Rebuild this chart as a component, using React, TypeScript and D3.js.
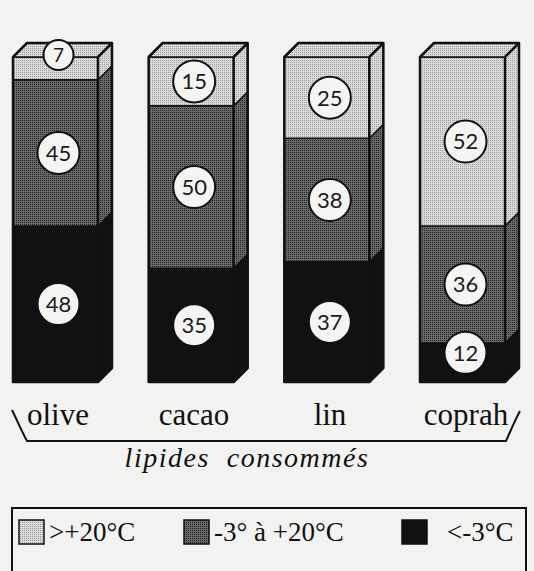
import * as d3 from "d3";

const categories = ["olive", "cacao", "lin", "coprah"];
// part des lipides (%) selon la température
const froid = [48, 35, 37, 12]; // <-3°C
const moyen = [45, 50, 38, 36]; // -3° à +20°C
const chaud = [7, 15, 25, 52]; // >+20°C

const seriesKeys = ["froid", "moyen", "chaud"];
const legendLabels = [">+20°C", "-3° à +20°C", "<-3°C"];
const legendKeys = ["chaud", "moyen", "froid"];

const W = 534;
const H = 571;
const DEPTH = 14;

const fills: Record<string, string> = {
  chaud: "url(#pat-light)",
  moyen: "url(#pat-dark)",
  froid: "#111",
};

export default function App() {
  const rows = categories.map((c, i) => ({
    name: c,
    froid: froid[i],
    moyen: moyen[i],
    chaud: chaud[i],
  }));

  const x = d3.scaleBand<string>().domain(categories).range([13, 505]).paddingInner(0.3735);
  // les noms sous les barres ne sont pas tout à fait alignés sur les barres
  const xLabel = d3.scalePoint<string>().domain(categories).range([58, 466]);
  const y = d3.scaleLinear().domain([0, 100]).range([382, 57]);
  const stacked = d3.stack<(typeof rows)[number]>().keys(seriesKeys)(rows);
  const bw = x.bandwidth();

  return (
    <svg
      width={W}
      height={H}
      style={{ position: "fixed", left: 0, top: 0, background: "#f2f2f0" }}
    >
      <defs>
        <pattern id="pat-light" width={2} height={2} patternUnits="userSpaceOnUse">
          <rect width={2} height={2} fill="#dadada" />
          <rect width={1} height={1} fill="#9e9e9e" />
        </pattern>
        <pattern id="pat-dark" width={2} height={2} patternUnits="userSpaceOnUse">
          <rect width={2} height={2} fill="#6a6a6a" />
          <rect width={1} height={1} fill="#222" />
        </pattern>
      </defs>

      {rows.map((r, i) => {
        const x0 = x(r.name)!;
        const x1 = x0 + bw;
        const yTop = y(100);
        const yBot = y(0);
        const topKey = seriesKeys[seriesKeys.length - 1];
        return (
          <g key={r.name}>
            {stacked.map((s) => {
              const d = s[i];
              const ya = y(d[1]);
              const yb = y(d[0]);
              return (
                <g key={s.key}>
                  <rect
                    x={x0}
                    y={ya}
                    width={bw}
                    height={yb - ya}
                    fill={fills[s.key]}
                    stroke="#111"
                    strokeWidth={1.5}
                  />
                  <polygon
                    points={`${x1},${ya} ${x1 + DEPTH},${ya - DEPTH} ${x1 + DEPTH},${yb - DEPTH} ${x1},${yb}`}
                    fill={fills[s.key]}
                    stroke="#111"
                    strokeWidth={1.5}
                    strokeLinejoin="round"
                  />
                </g>
              );
            })}
            <polygon
              points={`${x0},${yTop} ${x0 + DEPTH},${yTop - DEPTH} ${x1 + DEPTH},${yTop - DEPTH} ${x1},${yTop}`}
              fill={fills[topKey]}
              stroke="#111"
              strokeWidth={1.5}
              strokeLinejoin="round"
            />
            <path
              d={`M${x0},${yBot} L${x0},${yTop} L${x0 + DEPTH},${yTop - DEPTH} L${x1 + DEPTH},${yTop - DEPTH} L${x1 + DEPTH},${yBot - DEPTH} L${x1},${yBot} Z M${x1},${yTop} L${x1},${yBot} M${x1},${yTop} L${x1 + DEPTH},${yTop - DEPTH}`}
              fill="none"
              stroke="#111"
              strokeWidth={2.5}
              strokeLinejoin="round"
            />
            {stacked.map((s) => {
              const d = s[i];
              const ya = y(d[1]);
              const yb = y(d[0]);
              const h = yb - ya;
              const isTop = s.key === topKey;
              const small = h < 42;
              const rad = small && isTop ? 15 : 21;
              const cy = small ? (isTop ? ya - 2 : ya + h / 4) : (ya + yb) / 2;
              const cx = x0 + bw / 2 + 3;
              return (
                <g key={"lbl" + s.key}>
                  <circle cx={cx} cy={cy} r={rad} fill="#f4f4f2" stroke="#111" strokeWidth={2} />
                  <text
                    x={cx}
                    y={cy}
                    dy="0.36em"
                    textAnchor="middle"
                    fontFamily="Lato, 'Open Sans', sans-serif"
                    fontSize={isTop && small ? 19 : 22}
                    fill="#1a1a1a"
                  >
                    {d.data[s.key as "froid"]}
                  </text>
                </g>
              );
            })}
            <text
              x={xLabel(r.name)}
              y={425}
              textAnchor="middle"
              fontFamily="'Liberation Serif', serif"
              fontSize={31}
              fill="#111"
            >
              {r.name}
            </text>
          </g>
        );
      })}

      <path
        d="M12,410 C17,420 21,430 27,441 L506,441 C511,430 515,420 520,411"
        fill="none"
        stroke="#111"
        strokeWidth={2}
      />
      <text
        x={247}
        y={467}
        textAnchor="middle"
        fontFamily="'Liberation Serif', serif"
        fontStyle="italic"
        fontSize={28}
        letterSpacing={1.5}
        fill="#111"
        style={{ whiteSpace: "pre" }}
      >
        {"lipides  consommés"}
      </text>

      <rect x={12} y={508} width={514} height={80} fill="none" stroke="#111" strokeWidth={2} />
      {legendKeys.map((k, i) => {
        const sx = [19, 184, 402][i];
        return (
          <g key={k}>
            <rect x={sx} y={520} width={25} height={24} fill={fills[k]} stroke="#111" strokeWidth={1.5} />
            <text
              x={sx + (i === 2 ? 45 : 30)}
              y={541}
              fontFamily="'Liberation Serif', serif"
              fontSize={27}
              fill="#111"
            >
              {legendLabels[i]}
            </text>
          </g>
        );
      })}
    </svg>
  );
}
